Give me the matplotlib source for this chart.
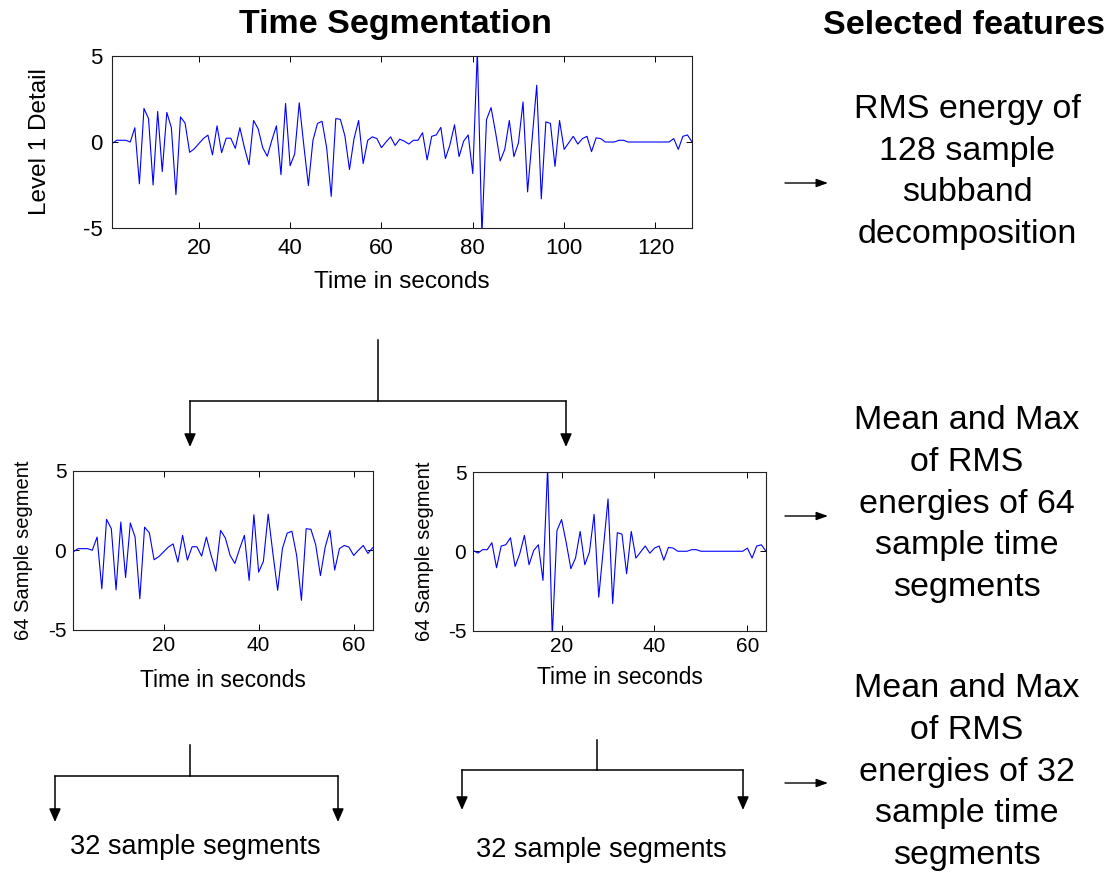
import numpy as np
import matplotlib
matplotlib.use("Agg")
import matplotlib.pyplot as plt

plt.rcParams['font.family'] = ['Liberation Sans', 'DejaVu Sans']
plt.rcParams['axes.unicode_minus'] = False

# level 1 detail coefficients, first and second 64-sample halves
first_half = [-0.1, 0.1, 0.1, 0.1, 0.0, 0.83, -2.43, 1.95, 1.36, -2.5,
              1.78, -1.72, 1.72, 0.83, -3.06, 1.46, 1.1, -0.6, -0.4, -0.1,
              0.2, 0.4, -0.75, 0.94, -0.62, 0.22, 0.22, -0.37, 0.83, -0.33,
              -1.32, 1.25, 0.77, -0.33, -0.83, 0.1, 0.94, -1.9, 2.24, -1.38,
              -0.7, 2.28, -0.2, -2.53, 0.1, 1.08, 1.2, -0.33, -3.16, 1.36,
              1.32, 0.35, -1.6, 0.2, 1.25, -1.25, 0.1, 0.3, 0.2, -0.33,
              0.0, 0.3, -0.2, 0.16]
second_half = [0.05, -0.12, 0.1, 0.1, 0.54, -1.04, 0.33, 0.41, 0.85, -0.96,
               -0.16, 1.0, -0.85, 0.05, 0.41, -1.84, 5.3, -5.4, 1.3, 2.0,
               0.54, -1.1, -0.43, 1.25, -0.85, -0.05, 2.33, -2.9, 0.2, 3.3,
               -3.3, 1.17, 1.08, -1.42, 1.25, -0.43, -0.05, 0.33, -0.12, 0.2,
               0.33, -0.56, 0.24, 0.2, 0.0, 0.0, 0.0, 0.1, 0.1, 0.0,
               0.0, 0.0, 0.0, 0.0, 0.0, 0.0, 0.0, 0.0, 0.0, 0.2,
               -0.43, 0.33, 0.41, 0.0]
full_signal = first_half + second_half

top_xticks = [20, 40, 60, 80, 100, 120]
seg_xticks = [20, 40, 60]
yticks = [-5, 0, 5]

W, H = 1114, 873
fig = plt.figure(figsize=(W / 100, H / 100), dpi=100)

# overlay in pixel units for the diagram parts
ov = fig.add_axes([0, 0, 1, 1])
ov.set_xlim(0, W)
ov.set_ylim(H, 0)
ov.axis('off')


def style_axes(ax, xmax, xticks, tick_fs, pad):
    ax.set_xlim(1, xmax)
    ax.set_ylim(-5, 5)
    ax.set_xticks(xticks)
    ax.set_yticks(yticks)
    ax.tick_params(direction='in', top=True, right=True, length=4,
                   width=0.7, labelsize=tick_fs, pad=pad)
    for sp in ax.spines.values():
        sp.set_linewidth(0.8)
        sp.set_color('#222222')


ax1 = fig.add_axes([112 / W, 1 - 228 / H, 580 / W, 172 / H])
ax1.plot(range(1, 129), full_signal, color='#0000ff', lw=0.8)
style_axes(ax1, 128, top_xticks, 16, 7)
ax1.set_xlabel('Time in seconds', fontsize=17.5, labelpad=9)
ax1.set_ylabel('Level 1 Detail', fontsize=17.5)
ax1.yaxis.set_label_coords(-0.106, 0.5)

ax2 = fig.add_axes([73.3 / W, 1 - 629.5 / H, 299.4 / W, 158.5 / H])
ax2.plot(range(1, 65), first_half, color='#0000ff', lw=0.8)
style_axes(ax2, 64, seg_xticks, 15, 5)
ax2.set_xlabel('Time in seconds', fontsize=16.5, labelpad=10)
ax2.set_ylabel('64 Sample segment', fontsize=14.5)
ax2.yaxis.set_label_coords(-0.133, 0.5)

ax3 = fig.add_axes([473.3 / W, 1 - 630.5 / H, 292.7 / W, 158.5 / H])
ax3.plot(range(1, 65), second_half, color='#0000ff', lw=0.8)
style_axes(ax3, 64, seg_xticks, 15, 5)
ax3.set_xlabel('Time in seconds', fontsize=16.5, labelpad=7)
ax3.set_ylabel('64 Sample segment', fontsize=14.5)
ax3.yaxis.set_label_coords(-0.133, 0.5)

# headings
ov.text(395, 25, 'Time Segmentation', fontsize=24.5, fontweight='bold',
        ha='center', va='center')
ov.text(964, 25, 'Selected features', fontsize=24.5, fontweight='bold',
        ha='center', va='center')

feature_texts = ['RMS energy of\n128 sample\nsubband\ndecomposition',
                 'Mean and Max\nof RMS\nenergies of 64\nsample time\nsegments',
                 'Mean and Max\nof RMS\nenergies of 32\nsample time\nsegments']
for txt, yc in zip(feature_texts, [172, 504, 772]):
    ov.text(967, yc, txt, fontsize=24.5, ha='center', va='center',
            multialignment='center', linespacing=1.45)

# arrows pointing to feature descriptions
for y in [183, 516, 783]:
    ov.annotate('', xy=(828, y), xytext=(785, y),
                arrowprops=dict(arrowstyle='-|>,head_length=0.7,head_width=0.25',
                                mutation_scale=10, lw=1.0, color='black',
                                shrinkA=0, shrinkB=0))


def split_tree(x_mid, y_top, y_bar, x_left, x_right, y_tip):
    ov.plot([x_mid, x_mid], [y_top, y_bar], color='black', lw=1.1)
    ov.plot([x_left, x_right], [y_bar, y_bar], color='black', lw=1.1)
    for xa in (x_left, x_right):
        ov.annotate('', xy=(xa, y_tip), xytext=(xa, y_bar),
                    arrowprops=dict(arrowstyle='-|>,head_length=0.8,head_width=0.35',
                                    mutation_scale=10, lw=1.1, color='black',
                                    shrinkA=0, shrinkB=0))


split_tree(378, 340, 401, 190, 566, 447)
split_tree(190, 745, 776, 55, 338, 822)
split_tree(597, 740, 770, 462, 743, 810)

ov.text(195, 847, '32 sample segments', fontsize=19.5, ha='center', va='center')
ov.text(601, 850, '32 sample segments', fontsize=19.5, ha='center', va='center')

fig.savefig('out.png', dpi=100)
